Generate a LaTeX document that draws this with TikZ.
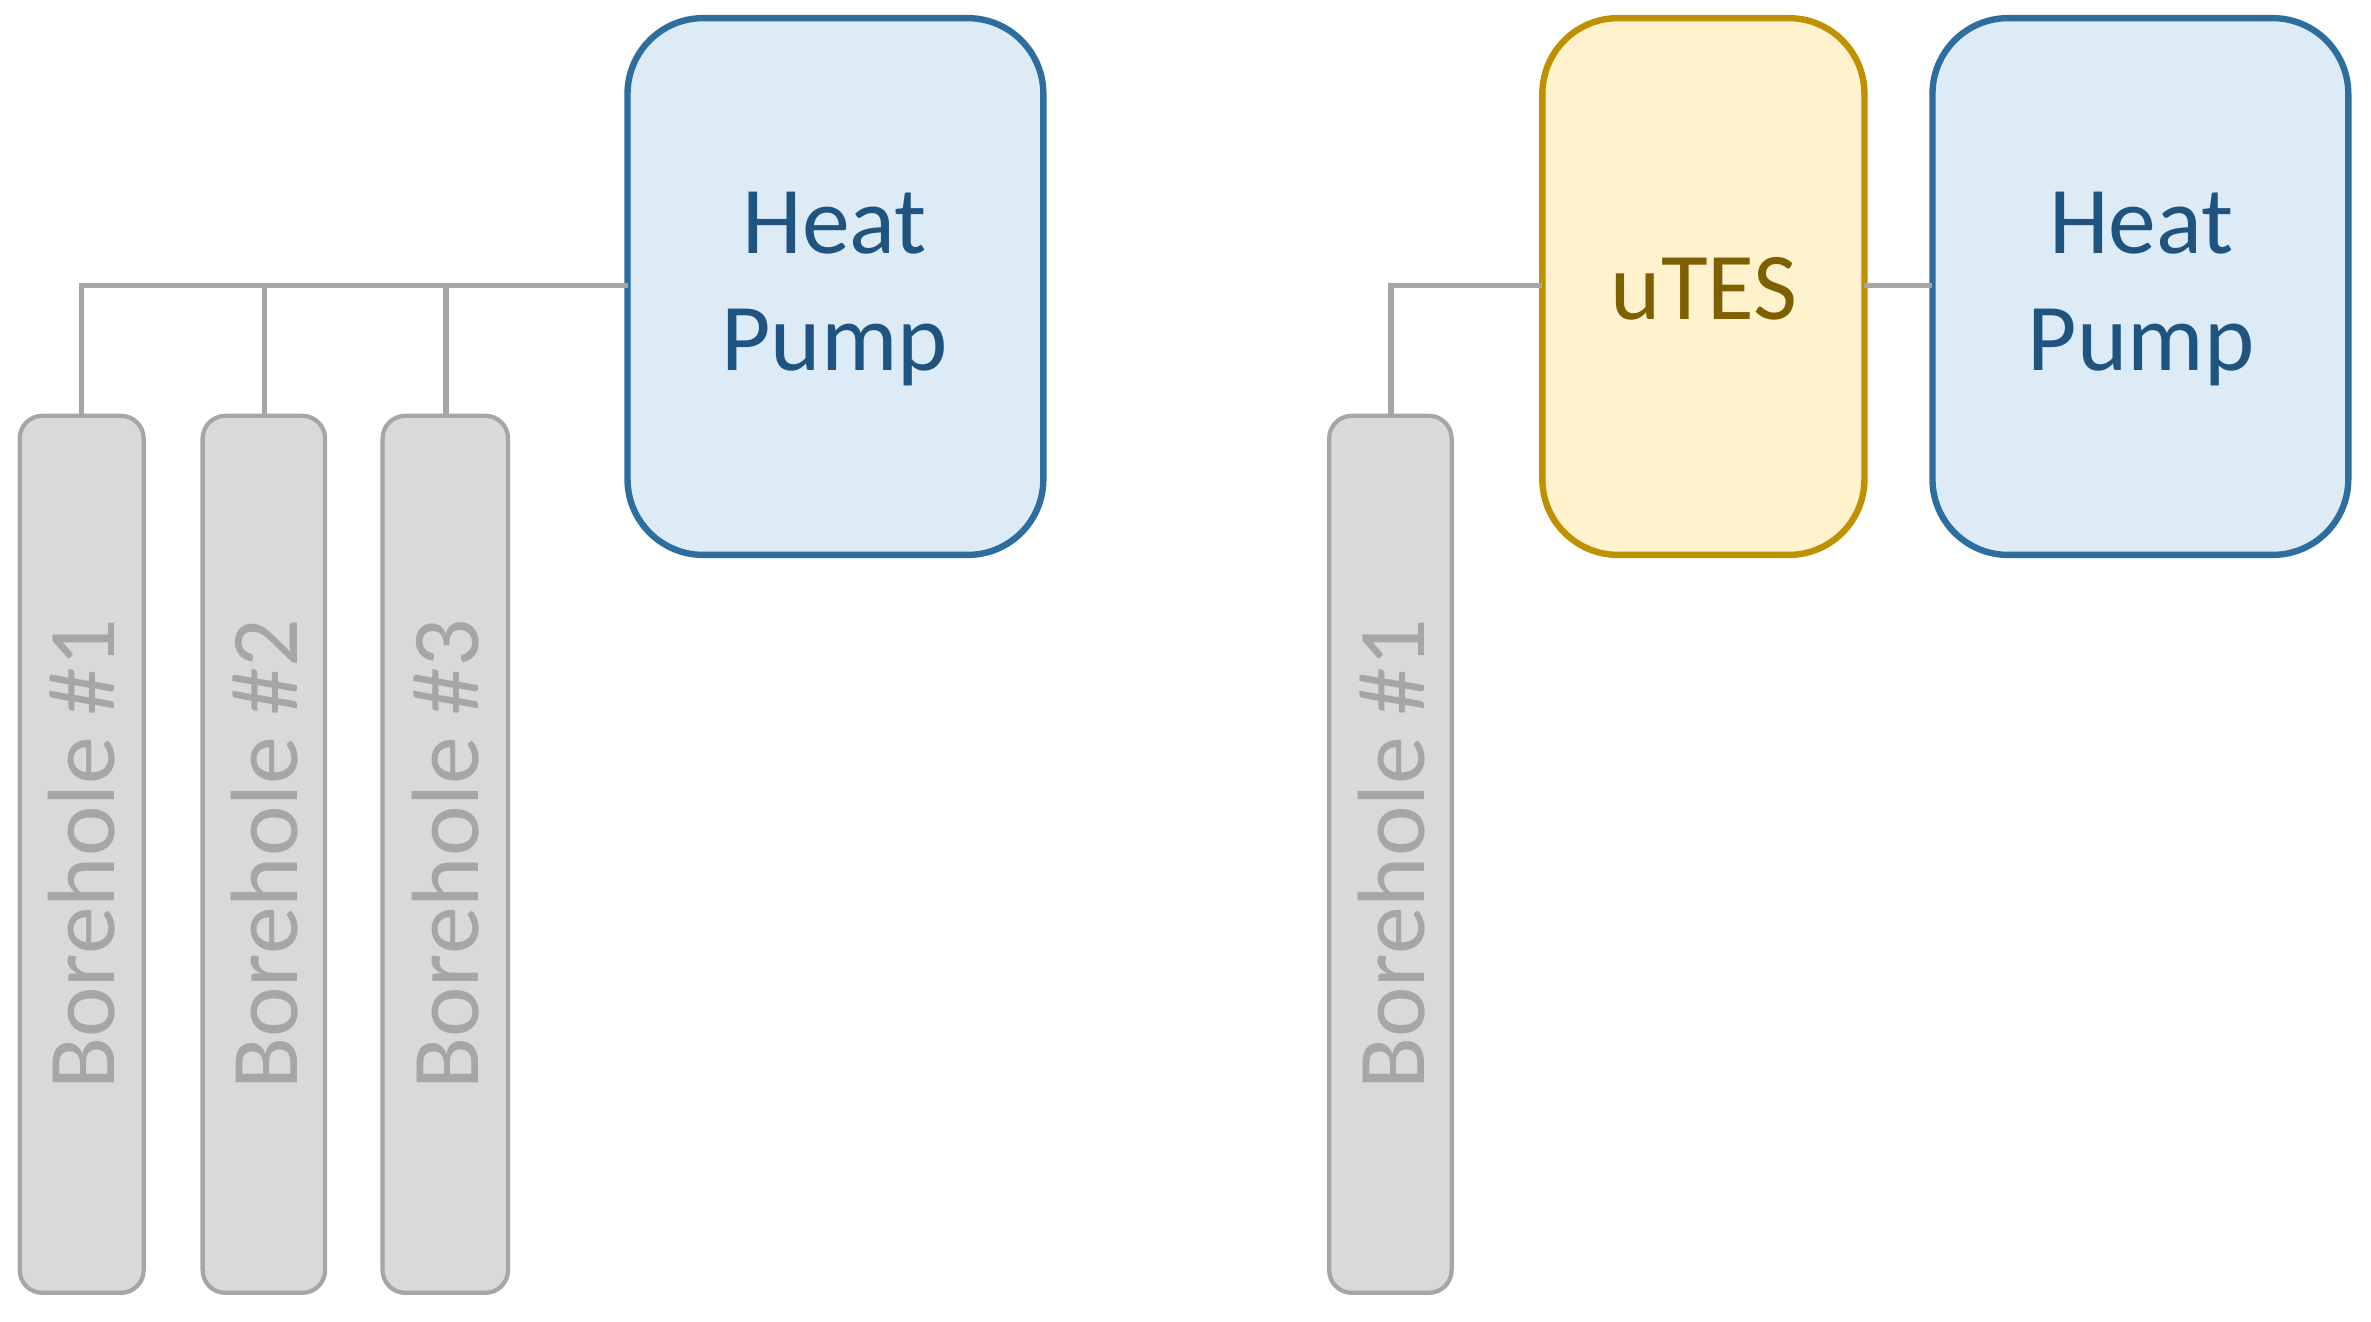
\documentclass[tikz,border=0pt]{standalone}
\usepackage{fontspec}
\setmainfont{Carlito}
\definecolor{hpfill}{HTML}{DDEBF7}
\definecolor{hpdraw}{HTML}{2E6E9E}
\definecolor{hptext}{HTML}{1F5380}
\definecolor{tfill}{HTML}{FFF2CC}
\definecolor{tdraw}{HTML}{BF9000}
\definecolor{ttext}{HTML}{7F6000}
\definecolor{bfill}{HTML}{D9D9D9}
\definecolor{bdraw}{HTML}{A6A6A6}
\begin{document}
\begin{tikzpicture}[x=0.01cm,y=-0.01cm,
  hp/.style={draw=hpdraw,fill=hpfill,line width=1.2pt,rounded corners=0.5cm,text=hptext,align=center,font=\fontsize{18}{21}\selectfont},
  ut/.style={draw=tdraw,fill=tfill,line width=1.2pt,rounded corners=0.5cm,text=ttext,font=\fontsize{18}{21}\selectfont},
  bh/.style={draw=bdraw,fill=bfill,line width=0.8pt,rounded corners=0.15cm},
  bt/.style={text=bdraw,rotate=90,font=\fontsize{18}{21}\selectfont},
  ln/.style={draw=bdraw,line width=1pt}]
\useasboundingbox (0,0) rectangle (1568,874);
% left
\draw[bh] (13,275) rectangle (95,855);
\draw[bh] (134,275) rectangle (215,855);
\draw[bh] (253,275) rectangle (336,855);
\node[bt] (b1) at (54,565) {Borehole \#1};
\node[bt] (b2) at (175,565) {Borehole \#2};
\node[bt] (b3) at (295,565) {Borehole \#3};
\draw[hp] (415,12) rectangle (690,367);
\node[text=hptext,align=center,font=\fontsize{18}{22}\selectfont] (hp1) at (552,191) {Heat\\Pump};
\coordinate (t1) at (54,275); \coordinate (t2) at (175,275); \coordinate (t3) at (295,275);
\coordinate (hpl) at (415,189);
\draw[ln] (t1) -- (54,189) -- (hpl);
\draw[ln] (t2) -- (175,189);
\draw[ln] (t3) -- (295,189);
% right
\draw[bh] (879,275) rectangle (960,855);
\node[bt] (b4) at (920,565) {Borehole \#1};
\draw[ut] (1020,12) rectangle (1233,367);
\node[text=ttext,font=\fontsize{18}{22}\selectfont] (ut) at (1127,191) {uTES};
\draw[hp] (1278,12) rectangle (1553,367);
\node[text=hptext,align=center,font=\fontsize{18}{22}\selectfont] (hp2) at (1416,191) {Heat\\Pump};
\coordinate (t4) at (920,275); \coordinate (ul) at (1020,189);
\coordinate (ur) at (1233,189); \coordinate (hl) at (1278,189);
\draw[ln] (t4) -- (920,189) -- (ul);
\draw[ln] (ur) -- (hl);
\end{tikzpicture}
\end{document}
